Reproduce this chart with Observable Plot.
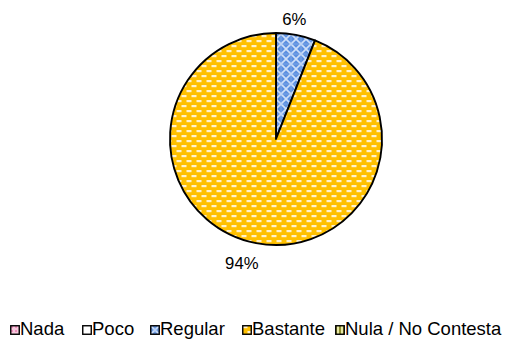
<!DOCTYPE html>
<html><head><meta charset="utf-8">
<script src="https://cdn.jsdelivr.net/npm/d3@7"></script>
<script src="https://cdn.jsdelivr.net/npm/@observablehq/plot@0.6"></script>
<style>
body{margin:0;background:#fff;font-family:Arial,"Liberation Sans",sans-serif;}
#chart svg{display:block}
#legend{position:relative;width:505px;height:30px;font-size:18.5px;color:#000;}
.item{position:absolute;top:6px;height:22px;line-height:22px;white-space:nowrap;}
.item svg{position:absolute;left:0;top:7px;}
.item span{position:absolute;left:10px;top:0;}
</style></head><body>
<svg width="0" height="0" style="position:absolute">
 <defs>
  <pattern id="pat-Nada" width="4" height="4" patternUnits="userSpaceOnUse">
   <rect width="4" height="4" fill="#f7c9dd"/><rect x="1" y="1" width="2" height="2" fill="#ee8fbd"/>
  </pattern>
  <pattern id="pat-Poco" width="4" height="4" patternUnits="userSpaceOnUse">
   <rect width="4" height="4" fill="#ffffff"/>
  </pattern>
  <pattern id="pat-Regular" width="10" height="10" patternUnits="userSpaceOnUse">
   <rect width="10" height="10" fill="#5b8fe0"/>
   <path d="M0,0L10,10M10,0L0,10" stroke="#dbe8fb" stroke-width="1.6" opacity="0.9"/>
   <path d="M5,0V10M0,5H10" stroke="#9fc0f0" stroke-width="0.8" opacity="0.6"/>
  </pattern>
  <pattern id="pat-Bastante" width="10" height="10" patternUnits="userSpaceOnUse">
   <rect width="10" height="10" fill="#ffc000"/>
   <rect x="0.5" y="1" width="5" height="2.2" fill="#fff8e6" opacity="0.9"/>
   <rect x="5.5" y="6" width="5" height="2.2" fill="#fff8e6" opacity="0.9"/>
   <rect x="-4.5" y="6" width="5" height="2.2" fill="#fff8e6" opacity="0.9"/>
  </pattern>
  <pattern id="pat-Nula" width="4" height="4" patternUnits="userSpaceOnUse">
   <rect width="4" height="4" fill="#e9e9a6"/><rect x="0" y="0" width="2" height="4" fill="#8f8f2f"/>
  </pattern>
 </defs>
</svg>
<div id="chart"></div>
<div id="legend"></div>
<script>
// ---- data ----
const categories = ["Nada", "Poco", "Regular", "Bastante", "Nula / No Contesta"];
const values = [0, 0, 6, 94, 0];
const labels = ["0%", "0%", "6%", "94%", "0%"];
const patternIds = ["pat-Nada", "pat-Poco", "pat-Regular", "pat-Bastante", "pat-Nula"];

const data = categories.map((c, i) => ({category: c, value: values[i], label: labels[i], pattern: patternIds[i], index: i}));
const arcs = d3.pie().sort(null).value(d => d.value).startAngle(0).endAngle(2 * Math.PI)(data);
const shown = arcs.filter(a => a.value > 0);

// label placement (outside end), with small nudges like the original
const labelR = 1.16;
const nudge = {"Regular": [-0.05, -0.01], "Bastante": [-0.11, -0.03]};
const labelData = shown.map(a => {
  const mid = (a.startAngle + a.endAngle) / 2;
  const n = nudge[a.data.category] || [0, 0];
  return {text: a.data.label, x: Math.sin(mid) * labelR + n[0], y: Math.cos(mid) * labelR + n[1]};
});

function pieMark(index, scales, values, dimensions) {
  const sx = scales && scales.x ? scales.x : d => 276 + d * 106;
  const sy = scales && scales.y ? scales.y : d => 139 - d * 106;
  const cx = sx(0), cy = sy(0), r = sx(1) - sx(0);
  const g = d3.create("svg:g").attr("transform", `translate(${cx},${cy})`);
  const arc = d3.arc().innerRadius(0).outerRadius(r);
  g.selectAll("path").data(shown).join("path")
    .attr("d", arc)
    .attr("fill", d => `url(#${d.data.pattern})`)
    .attr("stroke", "#000")
    .attr("stroke-width", 1.9)
    .attr("stroke-linejoin", "round");
  return g.node();
}

const chart = Plot.plot({
  width: 505,
  height: 312,
  margin: 0,
  x: {domain: [-1, 1], range: [170, 382], axis: null},
  y: {domain: [-1, 1], range: [245, 33], axis: null},
  style: {fontFamily: "Arial, 'Liberation Sans', sans-serif", background: "#fff"},
  marks: [
    pieMark,
    Plot.text(labelData, {x: "x", y: "y", text: "text", fontSize: 16.7, fill: "#000"})
  ]
});
document.getElementById("chart").appendChild(chart);

// legend
const legendX = [10, 82, 150, 242, 335];
const legend = d3.select("#legend");
categories.forEach((c, i) => {
  const it = legend.append("div").attr("class", "item").style("left", legendX[i] + "px");
  const s = it.append("svg").attr("width", 10).attr("height", 10);
  s.append("rect").attr("x", 0.75).attr("y", 0.75).attr("width", 8.5).attr("height", 8.5)
    .attr("fill", `url(#${patternIds[i]})`).attr("stroke", "#000").attr("stroke-width", 1.4);
  it.append("span").text(c);
});
</script>
</body></html>
